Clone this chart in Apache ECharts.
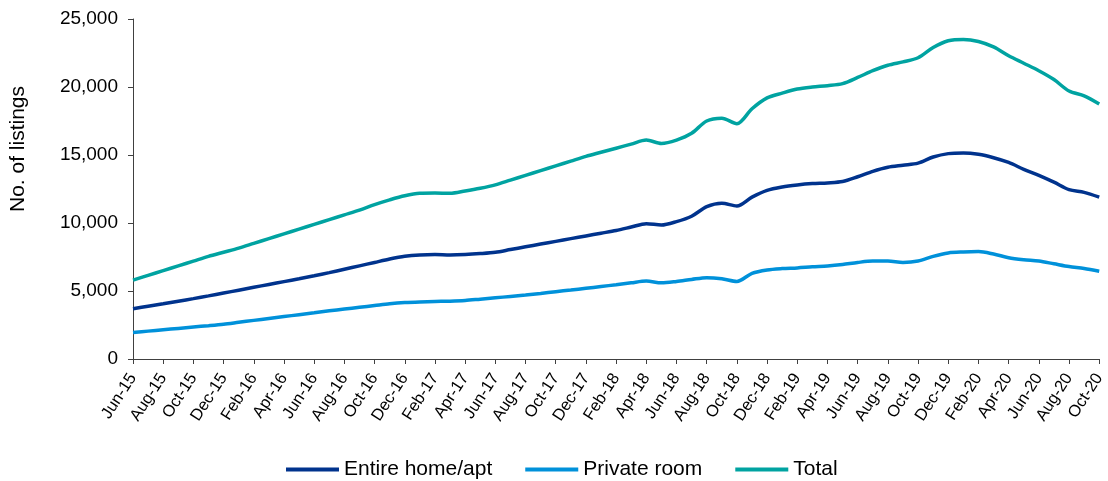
<!DOCTYPE html>
<html>
<head>
<meta charset="utf-8">
<script src="https://cdn.jsdelivr.net/npm/echarts@6/dist/echarts.min.js"></script>
<style>
html,body{margin:0;padding:0;background:#fff;}
#chart{width:1108px;height:481px;}
</style>
</head>
<body>
<div id="chart"></div>
<script>
var categories = [
  'Jun-15','Jul-15','Aug-15','Sep-15','Oct-15','Nov-15','Dec-15',
  'Jan-16','Feb-16','Mar-16','Apr-16','May-16','Jun-16','Jul-16','Aug-16','Sep-16','Oct-16','Nov-16','Dec-16',
  'Jan-17','Feb-17','Mar-17','Apr-17','May-17','Jun-17','Jul-17','Aug-17','Sep-17','Oct-17','Nov-17','Dec-17',
  'Jan-18','Feb-18','Mar-18','Apr-18','May-18','Jun-18','Jul-18','Aug-18','Sep-18','Oct-18','Nov-18','Dec-18',
  'Jan-19','Feb-19','Mar-19','Apr-19','May-19','Jun-19','Jul-19','Aug-19','Sep-19','Oct-19','Nov-19','Dec-19',
  'Jan-20','Feb-20','Mar-20','Apr-20','May-20','Jun-20','Jul-20','Aug-20','Sep-20','Oct-20'
];

var entireHome = [
  3700,3880,4060,4250,4440,4640,4850,
  5060,5270,5480,5690,5900,6120,6350,6600,6850,7100,7350,7550,
  7650,7680,7650,7680,7750,7850,8050,8250,8450,8650,8850,9050,
  9250,9450,9700,9950,9850,10100,10500,11200,11450,11250,11900,12400,
  12650,12800,12900,12950,13050,13400,13800,14100,14250,14400,14850,15100,
  15150,15050,14800,14450,13950,13500,13000,12450,12250,11900
];

var privateRoom = [
  1950,2050,2150,2250,2350,2450,2560,
  2700,2840,2980,3120,3260,3400,3540,3670,3800,3930,4060,4150,
  4200,4230,4250,4300,4400,4500,4600,4700,4820,4950,5070,5200,
  5330,5460,5600,5730,5600,5700,5850,5980,5900,5700,6300,6550,
  6650,6700,6780,6840,6950,7100,7200,7200,7100,7200,7550,7800,
  7870,7900,7720,7450,7300,7200,7000,6800,6650,6450
];

var total = [
  5800,6150,6500,6850,7200,7550,7850,
  8150,8500,8850,9200,9550,9900,10250,10600,10950,11350,11700,12000,
  12180,12200,12180,12350,12550,12800,13150,13500,13850,14200,14550,14900,
  15200,15500,15800,16100,15850,16100,16600,17500,17700,17300,18400,19200,
  19550,19850,20000,20100,20250,20700,21200,21600,21850,22150,22900,23400,
  23500,23350,22950,22300,21750,21200,20550,19700,19350,18750
];

var seriesNames = ['Entire home/apt','Private room','Total'];
var colors = ['#00338D','#0091DA','#00A3A1'];

var chart = echarts.init(document.getElementById('chart'), null, {renderer:'canvas'});
var font = 'Liberation Sans, Arial, sans-serif';
function mk(name, data, color){
  return {
    name: name, type: 'line', data: data, smooth: 0.3,
    showSymbol: false, symbol: 'none',
    lineStyle: {color: color, width: 3.5},
    itemStyle: {color: color}
  };
}
chart.setOption({
  animation: false,
  textStyle: {fontFamily: font},
  grid: {left: 132, right: 3, top: 19, bottom: 122, containLabel: false},
  legend: {
    left: 281, top: 454,
    icon: 'rect', itemWidth: 53, itemHeight: 4, itemGap: 33,
    textStyle: {fontFamily: font, fontSize: 21, color: '#000'},
    data: seriesNames
  },
  xAxis: {
    type: 'category', data: categories, boundaryGap: false,
    axisLine: {lineStyle: {color: '#404040', width: 1}},
    axisTick: {interval: 1, length: 5, lineStyle: {color: '#404040'}},
    axisLabel: {interval: 1, rotate: 57, margin: 16, fontFamily: font, fontSize: 16.5, color: '#000'},
    splitLine: {show: false}
  },
  yAxis: {
    type: 'value', min: 0, max: 25000, interval: 5000,
    name: 'No. of listings', nameLocation: 'middle', nameGap: 104,
    nameTextStyle: {fontFamily: font, fontSize: 21, color: '#000', padding: [0,0,0,80]},
    axisLine: {show: true, lineStyle: {color: '#404040', width: 1}},
    axisTick: {show: true, length: 5, lineStyle: {color: '#404040'}},
    axisLabel: {margin: 15, fontFamily: font, fontSize: 19, color: '#000',
      formatter: function(v){ return v.toLocaleString('en-US'); }},
    splitLine: {show: false}
  },
  series: [
    mk(seriesNames[0], entireHome, colors[0]),
    mk(seriesNames[1], privateRoom, colors[1]),
    mk(seriesNames[2], total, colors[2])
  ]
});
</script>
</body>
</html>
